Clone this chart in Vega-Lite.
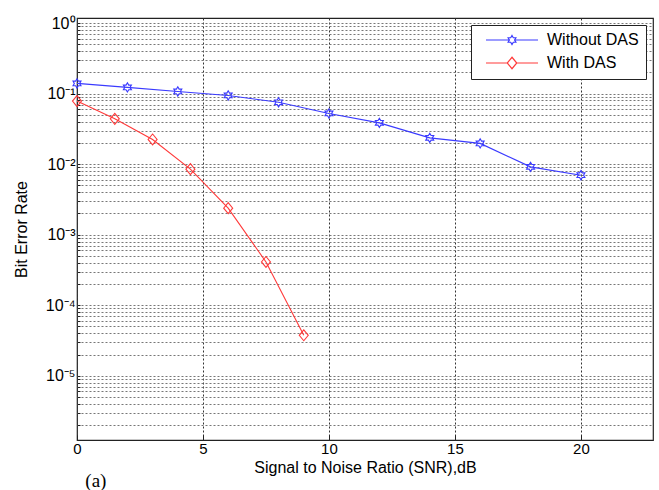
{
  "$schema": "https://vega.github.io/schema/vega-lite/v6.json",
  "width": 576,
  "height": 422,
  "autosize": {"type": "none"},
  "padding": {"left": 77, "top": 18, "right": 6, "bottom": 50},
  "background": "white",
  "title": {"text": "(a)", "orient": "bottom", "anchor": "start", "font": "Liberation Serif", "fontSize": 19, "fontWeight": "normal", "color": "black", "dx": 72, "offset": -3},
  "config": {
    "view": {"stroke": "#222", "strokeWidth": 1.2},
    "font": "Liberation Sans",
    "axis": {"domain": false, "labelColor": "black", "titleColor": "black", "labelFont": "Liberation Sans", "titleFont": "Liberation Sans", "titleFontWeight": "normal", "labelOverlap": false, "labelFlush": false, "tickColor": "#222"},
    "legend": {"orient": "top-right", "offset": 7, "padding": 7, "strokeColor": "#222", "fillColor": "white", "labelFont": "Liberation Sans", "labelFontSize": 16, "labelColor": "black", "symbolSize": 100, "symbolStrokeWidth": 1.2, "symbolOpacity": 1, "labelOffset": 53, "rowPadding": 6, "cornerRadius": 0}
  },
  "data": {"values": [
    {"series": "Without DAS", "snr": 0, "ber": 0.1395},
    {"series": "Without DAS", "snr": 2, "ber": 0.1225},
    {"series": "Without DAS", "snr": 4, "ber": 0.1074},
    {"series": "Without DAS", "snr": 6, "ber": 0.0942},
    {"series": "Without DAS", "snr": 8, "ber": 0.0753},
    {"series": "Without DAS", "snr": 10, "ber": 0.0524},
    {"series": "Without DAS", "snr": 12, "ber": 0.0385},
    {"series": "Without DAS", "snr": 14, "ber": 0.0236},
    {"series": "Without DAS", "snr": 16, "ber": 0.0197},
    {"series": "Without DAS", "snr": 18, "ber": 0.00916},
    {"series": "Without DAS", "snr": 20, "ber": 0.00698},
    {"series": "With DAS", "snr": 0, "ber": 0.0783},
    {"series": "With DAS", "snr": 1.5, "ber": 0.0439},
    {"series": "With DAS", "snr": 3, "ber": 0.0224},
    {"series": "With DAS", "snr": 4.5, "ber": 0.0085},
    {"series": "With DAS", "snr": 6, "ber": 0.00238},
    {"series": "With DAS", "snr": 7.5, "ber": 0.000411},
    {"series": "With DAS", "snr": 9, "ber": 0.0000375}
  ]},
  "encoding": {
    "x": {"field": "snr", "type": "quantitative",
      "scale": {"domain": [0, 22.86], "nice": false, "zero": false},
      "axis": {"values": [0, 5, 10, 15, 20], "grid": true, "gridColor": "#333", "gridDash": [2, 2], "gridWidth": 1, "ticks": true, "tickSize": -5, "labelFontSize": 15, "labelPadding": 6, "title": "Signal to Noise Ratio (SNR),dB", "titleFontSize": 16, "titlePadding": 3}},
    "y": {"field": "ber", "type": "quantitative",
      "scale": {"type": "log", "domain": [0.00000123, 1.18], "nice": false},
      "axis": {"values": [0.000002,0.000003,0.000004,0.000005,0.000006,0.000007,0.000008,0.000009,0.00001,0.00002,0.00003,0.00004,0.00005,0.00006,0.00007,0.00008,0.00009,0.0001,0.0002,0.0003,0.0004,0.0005,0.0006,0.0007,0.0008,0.0009,0.001,0.002,0.003,0.004,0.005,0.006,0.007,0.008,0.009,0.01,0.02,0.03,0.04,0.05,0.06,0.07,0.08,0.09,0.1,0.2,0.3,0.4,0.5,0.6,0.7,0.8,0.9,1],
        "labelExpr": "abs(log(datum.value)/LN10 - round(log(datum.value)/LN10)) < 0.000001 ? ['10⁰','10⁻¹','10⁻²','10⁻³','10⁻⁴','10⁻⁵','10⁻⁶'][-round(log(datum.value)/LN10)] : ''",
        "grid": true, "gridColor": "#777", "gridDash": [2, 2], "gridWidth": 1, "ticks": true, "tickSize": -3, "labelFontSize": 16, "labelPadding": 5, "title": "Bit Error Rate", "titleFontSize": 16, "titlePadding": 16}}
  },
  "layer": [
    {"transform": [{"filter": "datum.series == 'Without DAS'"}],
     "mark": {"type": "line", "strokeWidth": 1.1, "color": "#3a3aff"}},
    {"transform": [{"filter": "datum.series == 'With DAS'"}],
     "mark": {"type": "line", "strokeWidth": 1.1, "color": "#ff3a3a"}},
    {"transform": [{"filter": "datum.series == 'Without DAS'"}],
     "mark": {"type": "point", "filled": false, "strokeWidth": 1.1, "size": 85, "opacity": 1, "color": "#3a3aff", "shape": "M0,-1L0.289,-0.5L0.866,-0.5L0.577,0L0.866,0.5L0.289,0.5L0,1L-0.289,0.5L-0.866,0.5L-0.577,0L-0.866,-0.5L-0.289,-0.5Z"}},
    {"transform": [{"filter": "datum.series == 'With DAS'"}],
     "mark": {"type": "point", "filled": false, "strokeWidth": 1.1, "size": 90, "opacity": 1, "color": "#ff3a3a", "shape": "M0,-1.15L0.95,0L0,1.15L-0.95,0Z"}},
    {"mark": {"type": "point", "filled": false, "opacity": 0, "size": 100},
     "encoding": {
       "color": {"field": "series", "type": "nominal", "scale": {"domain": ["Without DAS", "With DAS"], "range": ["#3a3aff", "#ff3a3a"]}, "legend": {"title": null}},
       "shape": {"field": "series", "type": "nominal", "scale": {"domain": ["Without DAS", "With DAS"], "range": ["M0,0H4.68M5.72,0H10.4M5.2,-0.9L5.46,-0.45L5.979,-0.45L5.72,0L5.979,0.45L5.46,0.45L5.2,0.9L4.94,0.45L4.421,0.45L4.68,0L4.421,-0.45L4.94,-0.45Z", "M0,0H4.25M6.15,0H10.4M5.2,-1.15L6.15,0L5.2,1.15L4.25,0Z"]}, "legend": {"title": null}}
     }}
  ]
}
